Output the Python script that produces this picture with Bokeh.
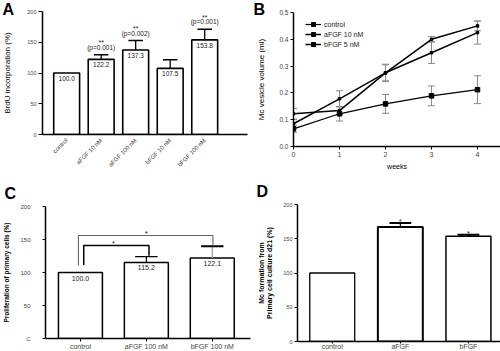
import math
from bokeh.plotting import figure
from bokeh.layouts import column, row
from bokeh.models import (ColumnDataSource, Whisker, TeeHead, Title, Legend,
                          LegendItem, FixedTicker, Range1d, NumeralTickFormatter)
from bokeh.core.properties import value
from bokeh.embed import file_html
from bokeh.resources import INLINE

FONT = "Liberation Sans"

# ---------------- data ----------------
# Panel A
a_cats = ["control", "aFGF 10 nM", "aFGF 100 nM", "bFGF 10 nM", "bFGF 100 nM"]
a_vals = [100.0, 122.2, 137.3, 107.5, 153.8]
a_err = [0.0, 7.4, 15.5, 14.0, 17.5]
a_stars = ["", "**", "**", "", "**"]
a_pvals = ["", "(p=0.001)", "(p=0.002)", "", "(p=0.001)"]
a_labels = ["100.0", "122.2", "137.3", "107.5", "153.8"]

# Panel B
b_weeks = [0, 1, 2, 3, 4]
b_control = [0.066, 0.122, 0.159, 0.189, 0.212]
b_control_err = [0.013, 0.027, 0.035, 0.037, 0.052]
b_afgf = [0.085, 0.178, 0.275, 0.350, 0.425]
b_afgf_err = [0.015, 0.030, 0.032, 0.040, 0.043]
b_bfgf = [0.122, 0.134, 0.275, 0.400, 0.450]
b_bfgf_err = [0.020, 0.015, 0.030, 0.010, 0.018]
b_names = ["control", "aFGF 10 nM", "bFGF 5 nM"]

# Panel C
c_cats = ["control", "aFGF 100 nM", "bFGF 100 nM"]
c_vals = [100.0, 115.2, 122.1]
c_err = [0.0, 8.8, 17.5]
c_labels = ["100.0", "115.2", "122.1"]
c_pairs = [(0, 1), (0, 2)]
c_br_level = [141.0, 156.0]
c_br_left = [111.5, 110.5]
c_br_right = [125.5, 140.5]
c_br_text = ["*", "*"]

# Panel D
d_cats = ["control", "aFGF", "bFGF"]
d_vals = [100.0, 167.0, 153.5]
d_err = [0.0, 6.0, 2.5]
d_stars = ["", "*", "*"]


def make_fig(g, letter, letter_x, letter_cy):
    # panel letter drawn as the plot title, placed in the top border
    fh = 18  # approx text box height of the letter
    standoff = int(round(2 * (g["T"] - letter_cy) - 2 - fh))
    ttl = Title(text=letter, align="left", vertical_align="middle",
                offset=letter_x - g["L"], standoff=standoff,
                text_font=FONT, text_font_size="16px", text_font_style="bold",
                text_color="black")
    p = figure(frame_width=g["W"] - g["L"] - g["R"], frame_height=g["H"] - g["T"] - g["B"],
               x_range=Range1d(*g["xr"]), y_range=Range1d(*g["yr"]),
               output_backend="svg", toolbar_location=None, title=ttl,
               min_border_left=g["L"], min_border_right=g["R"],
               min_border_top=g["T"], min_border_bottom=g["B"])
    p.frame_align = False
    p.outline_line_color = None
    p.xgrid.visible = False
    p.ygrid.visible = False
    p.background_fill_color = "white"
    p.border_fill_color = "white"
    for ax in (p.xaxis[0], p.yaxis[0]):
        ax.axis_line_color = "black"
        ax.axis_line_width = 1.5
        ax.major_tick_line_color = "black"
        ax.major_tick_line_width = 1
        ax.minor_tick_line_color = None
        ax.minor_tick_out = 0
        ax.minor_tick_in = 0
        ax.major_tick_in = 0
        ax.major_tick_out = 3
        ax.major_label_text_font = FONT
        ax.major_label_text_color = "#444444"
        ax.major_label_standoff = 2
        ax.axis_label_text_font = FONT
        ax.axis_label_text_color = "black"
        ax.axis_label_text_font_style = "normal"
    return p


# ---------------- Panel A ----------------
gA = dict(W=250, H=175, L=40, R=5, T=11, B=41, xr=(-0.70, 5.24), yr=(0, 200))
pa = make_fig(gA, "A", 0, 8)
ax_idx = list(range(len(a_cats)))
srcA = ColumnDataSource(dict(x=ax_idx, top=a_vals, lab=a_labels,
                             up=[v + e for v, e in zip(a_vals, a_err)],
                             star=a_stars, pv=a_pvals))
pa.vbar(x="x", top="top", width=0.75, bottom=0, source=srcA, fill_color="white",
        line_color="black", line_width=1.6)
ex = [i for i, e in zip(ax_idx, a_err) if e > 0]
ev = [v for v, e in zip(a_vals, a_err) if e > 0]
eu = [v + e for v, e in zip(a_vals, a_err) if e > 0]
capA = 0.21
pa.segment(x0=ex, y0=ev, x1=ex, y1=eu, line_color="black", line_width=1.3)
pa.segment(x0=[x - capA for x in ex], y0=eu, x1=[x + capA for x in ex], y1=eu,
           line_color="black", line_width=1.5)
pa.text(x="x", y="top", text="lab", source=srcA, text_font=value(FONT), text_font_size="6.5px",
        text_align="center", text_baseline="top", y_offset=3, text_color="#222222")
pa.text(x="x", y="up", text="pv", source=srcA, text_font=value(FONT), text_font_size="6.5px",
        text_align="center", text_baseline="middle", y_offset=-7.5, text_color="#222222")
pa.text(x="x", y="up", text="star", source=srcA, text_font=value(FONT), text_font_size="7px",
        text_align="center", text_baseline="middle", y_offset=-12, text_color="#222222")
pa.yaxis.ticker = FixedTicker(ticks=[0, 50, 100, 150, 200])
pa.xaxis.ticker = FixedTicker(ticks=ax_idx)
pa.xaxis.major_label_overrides = {i: c for i, c in zip(ax_idx, a_cats)}
pa.xaxis.major_label_orientation = math.pi / 4
pa.xaxis.major_tick_line_color = None
pa.xaxis.major_label_text_font_size = "6px"
pa.yaxis.major_label_text_font_size = "5.5px"
pa.yaxis.major_tick_out = 4
pa.yaxis.axis_label = "BrdU incorporation (%)"
pa.yaxis.axis_label_text_font_size = "8px"
pa.yaxis.axis_label_standoff = 12

# ---------------- Panel B ----------------
gB = dict(W=250, H=175, L=41, R=2, T=12, B=29, xr=(0, 4.5), yr=(0, 0.5))
pb = make_fig(gB, "B", 1, 8)
series = [(b_control, b_control_err, 1.2, "square", 4.5),
          (b_afgf, b_afgf_err, 1.5, "square", 2.5),
          (b_bfgf, b_bfgf_err, 1.5, "square", 2.5)]
items = []
for name, (vals, errs, lw, mk, ms) in zip(b_names, series):
    src = ColumnDataSource(dict(x=b_weeks, y=vals,
                                lo=[v - e for v, e in zip(vals, errs)],
                                hi=[v + e for v, e in zip(vals, errs)]))
    pb.add_layout(Whisker(source=src, base="x", upper="hi", lower="lo",
                          line_color="#888888", line_width=1,
                          upper_head=TeeHead(size=7, line_color="#888888", line_width=1),
                          lower_head=TeeHead(size=7, line_color="#888888", line_width=1)))
    l = pb.line(x="x", y="y", source=src, line_color="black", line_width=lw)
    s = pb.scatter(x="x", y="y", source=src, marker=mk, size=ms, fill_color="black",
                   line_color="black")
    items.append(LegendItem(label=name, renderers=[l, s]))
leg = Legend(items=items, location=(12, 97), margin=0, padding=0, spacing=0,
             glyph_width=16, glyph_height=10, label_height=10, label_standoff=3,
             label_text_font=FONT, label_text_font_size="7px", label_text_color="#222222",
             border_line_color=None, background_fill_alpha=0)
pb.add_layout(leg)
pb.xaxis.ticker = FixedTicker(ticks=b_weeks)
pb.yaxis.ticker = FixedTicker(ticks=[0, 0.1, 0.2, 0.3, 0.4, 0.5])
pb.yaxis.formatter = NumeralTickFormatter(format="0.0")
pb.xaxis.major_label_text_font_size = "7px"
pb.xaxis.major_label_standoff = 2
pb.yaxis.major_label_text_font_size = "6.5px"
pb.xaxis.axis_label = "weeks"
pb.xaxis.axis_label_text_font_size = "7px"
pb.xaxis.axis_label_standoff = 3
pb.yaxis.axis_label = "Mc vesicle volume (ml)"
pb.yaxis.axis_label_text_font_size = "8px"
pb.yaxis.axis_label_standoff = 10

# ---------------- Panel C ----------------
gC = dict(W=250, H=176, L=43, R=2, T=31, B=13, xr=(-0.53, 2.58), yr=(0, 200))
pc = make_fig(gC, "C", 2, 17.5)
cx = list(range(len(c_cats)))
srcC = ColumnDataSource(dict(x=cx, top=c_vals, lab=c_labels))
pc.vbar(x="x", top="top", width=0.667, bottom=0, source=srcC, fill_color="white",
        line_color="black", line_width=1.5)
capC = 0.17
ecx = [i for i, e in zip(cx, c_err) if e > 0]
ecv = [v for v, e in zip(c_vals, c_err) if e > 0]
ecu = [v + e for v, e in zip(c_vals, c_err) if e > 0]
pc.segment(x0=ecx, y0=ecv, x1=ecx, y1=ecu, line_color=["black", "#999999"], line_width=1.2)
pc.segment(x0=[x - capC for x in ecx], y0=ecu, x1=[x + capC for x in ecx], y1=ecu,
           line_color="black", line_width=[1.3, 2])
pc.text(x="x", y="top", text="lab", source=srcC, text_font=value(FONT), text_font_size="7px",
        text_align="center", text_baseline="top", y_offset=3, text_color="#222222")
br_dl = [0.05, -0.03]
br_dr = [0.04, 0.01]
br_xs, br_ys = [], []
for (a, b), lv, yl, yr_, dl, dr in zip(c_pairs, c_br_level, c_br_left, c_br_right, br_dl, br_dr):
    br_xs.append([a + dl, a + dl, b + dr, b + dr])
    br_ys.append([yl, lv, lv, yr_])
pc.multi_line(xs=br_xs, ys=br_ys, line_color=["black", "#666666"], line_width=[1.5, 1.1])
pc.text(x=[(a + b) / 2 for a, b in c_pairs], y=c_br_level, text=c_br_text,
        text_font=value(FONT), text_font_size=["7px", "8px"], text_align="center",
        text_baseline="bottom", y_offset=2, text_color="#222222")
pc.xaxis.ticker = FixedTicker(ticks=cx)
pc.xaxis.major_label_overrides = {i: c for i, c in zip(cx, c_cats)}
pc.xaxis.major_label_text_font_size = "7px"
pc.xaxis.major_label_standoff = 1
pc.yaxis.ticker = FixedTicker(ticks=[0, 50, 100, 150, 200])
pc.yaxis.major_label_overrides = {0: "C"}
pc.yaxis.major_label_text_font_size = "6px"
pc.yaxis.major_label_standoff = 12
pc.yaxis.axis_label = "Proliferation of primary cells (%)"
pc.yaxis.axis_label_text_font_size = "6.5px"
pc.yaxis.axis_label_text_font_style = "bold"
pc.yaxis.axis_label_standoff = 7

# ---------------- Panel D ----------------
gD = dict(W=250, H=176, L=45, R=0, T=29, B=10, xr=(-0.51, 2.5), yr=(0, 200))
pd_ = make_fig(gD, "D", 4, 15.5)
dx = list(range(len(d_cats)))
srcD = ColumnDataSource(dict(x=dx, top=d_vals, up=[v + e for v, e in zip(d_vals, d_err)],
                             star=d_stars, lw=[1.3, 2.0, 1.5]))
pd_.vbar(x="x", top="top", width=0.66, bottom=0, source=srcD, fill_color="white",
         line_color="black", line_width="lw")
capD = 0.16
edx = [i for i, e in zip(dx, d_err) if e > 0]
edv = [v for v, e in zip(d_vals, d_err) if e > 0]
edu = [v + e for v, e in zip(d_vals, d_err) if e > 0]
pd_.segment(x0=edx, y0=edv, x1=edx, y1=edu, line_color="black", line_width=1.2)
pd_.segment(x0=[x - capD for x in edx], y0=edu, x1=[x + capD for x in edx], y1=edu,
            line_color="black", line_width=2)
pd_.text(x="x", y="up", text="star", source=srcD, text_font=value(FONT), text_font_size="7px",
         text_align="center", text_baseline="bottom", y_offset=2, text_color="#222222")
pd_.xaxis.ticker = FixedTicker(ticks=dx)
pd_.xaxis.major_label_overrides = {i: c for i, c in zip(dx, d_cats)}
pd_.xaxis.major_label_text_font_size = "7px"
pd_.xaxis.major_label_standoff = -1
pd_.xaxis.major_tick_out = 2
pd_.yaxis.ticker = FixedTicker(ticks=[0, 50, 100, 150, 200])
pd_.yaxis.major_label_text_font_size = "5.5px"
pd_.yaxis.axis_label = "Mc formation from\nPrimary cell culture d21 (%)"
pd_.yaxis.axis_label_text_font_size = "7px"
pd_.yaxis.axis_label_text_font_style = "bold"
pd_.yaxis.axis_label_standoff = 7

layout = column(row(pa, pb), row(pc, pd_))
open("out.html", "w").write(file_html(layout, INLINE))
